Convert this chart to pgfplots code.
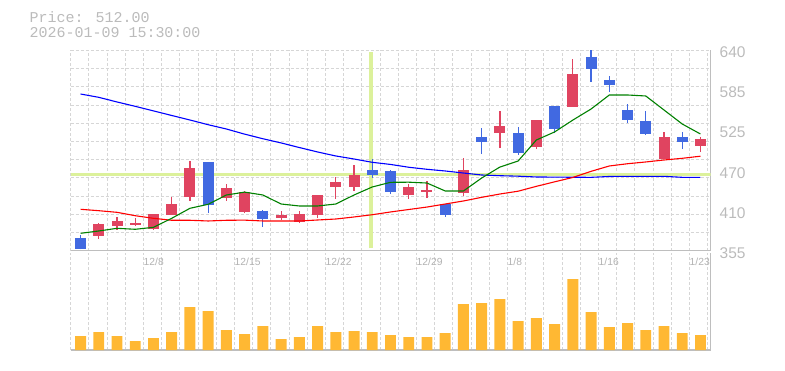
\documentclass[border=0pt]{standalone}
\usepackage{pgfplots}
\pgfplotsset{compat=1.18}
\usepackage{fontspec}
\setmainfont{Liberation Sans}
\newfontfamily\monofont{Liberation Mono}
\definecolor{cred}{RGB}{224,68,96}
\definecolor{cblue}{RGB}{65,105,225}
\definecolor{cvol}{RGB}{255,184,51}
\definecolor{cgrid}{RGB}{214,214,214}
\definecolor{caxis}{RGB}{190,190,190}
\definecolor{ctext}{RGB}{187,187,187}
\definecolor{cdate}{RGB}{178,178,178}
\definecolor{ccross}{RGB}{220,241,155}
\definecolor{cma5}{RGB}{0,128,0}
\definecolor{cma25}{RGB}{255,0,0}
\definecolor{cma75}{RGB}{0,0,255}
\pgfplotsset{
 mycommon/.style={
  scale only axis, width=639.8pt, xmin=-0.54, xmax=34.55,
  xtick={-0.54,0.4582,...,34.5}, xticklabels={},
  xmajorgrids,
  major grid style={cgrid, dash pattern=on 3pt off 2pt, line width=0.9pt},
  major tick length=0pt,
  axis x line*=bottom, axis y line*=right,
  axis line style={caxis, line width=1.3pt, -},
  x axis line style={-}, y axis line style={-},
  clip=true,
 }
}
\begin{document}
\begin{tikzpicture}
\path[use as bounding box] (0,0) rectangle (785pt,370pt);
\node[anchor=base west, font=\monofont\fontsize{15}{15}\selectfont, text=ctext, inner sep=0pt] at (29.3pt,347pt) {Price: 512.00};
\node[anchor=base west, font=\monofont\fontsize{15}{15}\selectfont, text=ctext, inner sep=0pt] at (29.3pt,332.3pt) {2026-01-09 15:30:00};

% volume panel
\begin{axis}[mycommon, at={(70.7pt,20pt)}, anchor=south west, height=97pt,
  ymin=0, ymax=291, ytick=\empty]
\addplot[ybar, bar width=0.6, fill=cvol, draw=none] coordinates {
(0,42) (1,54) (2,42) (3,27) (4,36) (5,54) (6,129) (7,117) (8,60) (9,48)
(10,72) (11,33) (12,39) (13,72) (14,54) (15,57) (16,54) (17,45) (18,39) (19,39)
(20,51) (21,138) (22,141) (23,153) (24,87) (25,96) (26,78) (27,213) (28,114) (29,69)
(30,81) (31,60) (32,72) (33,51) (34,45)};
\end{axis}

% price panel
\begin{axis}[mycommon, at={(70.7pt,119.3pt)}, anchor=south west, height=200.7pt,
  ymin=355, ymax=640,
  ytick={355,380.85,...,640}, yticklabels={}, ymajorgrids,
  yticklabel pos=right,
  extra y ticks={355,412,469,526,583,640},
  extra y tick labels={355,410,470,525,585,640},
  extra y tick style={grid=none, yticklabel style={anchor=west, inner sep=0pt, xshift=9pt, yshift=-2.3pt, text=ctext, font=\fontsize{15.5}{15.5}\selectfont}},
  extra x ticks={3.453,8.444,13.435,18.426,23.417,28.408,33.399},
  extra x tick labels={12/8,12/15,12/22,12/29,1/8,1/16,1/23},
  extra x tick style={grid=none, xticklabel style={anchor=west, inner sep=0pt, yshift=-11.3pt, text=cdate, font=\fontsize{10.3}{10.3}\selectfont}},
  unbounded coords=jump]
% crosshair
\addplot[ccross, line width=3.2pt, mark=none] coordinates {(15.93,358.4) (15.93,637.6)};
\addplot[ccross, line width=3.2pt, mark=none] coordinates {(-0.54,463.5) (34.55,463.5)};
% red candles: wicks
\addplot[cred, line width=1.2pt, mark=none] coordinates {
(1,372) (1,395) (1,nan)
(2,384.4) (2,402.4) (2,nan)
(3,390) (3,401) (3,nan)
(4,384.4) (4,407.1) (4,nan)
(5,405.5) (5,431.3) (5,nan)
(6,425.6) (6,482.4) (6,nan)
(8,425.6) (8,449.7) (8,nan)
(9,408.5) (9,439.8) (9,nan)
(11,398.6) (11,411.4) (11,nan)
(12,394.3) (12,411.4) (12,nan)
(13,401.4) (13,434.1) (13,nan)
(14,428.4) (14,459.7) (14,nan)
(15,439.8) (15,476.7) (15,nan)
(18,428.4) (18,449.7) (18,nan)
(19,429.8) (19,454) (19,nan)
(21,432.7) (21,486.6) (21,nan)
(23,500.8) (23,553.4) (23,nan)
(25,499.4) (25,540.6) (25,nan)
(27,559.1) (27,627.2) (27,nan)
(32,485.2) (32,523.6) (32,nan)
(34,495.2) (34,516.5)};
% red candles: bodies (open -> close)
\addplot[cred, line width=11pt, line cap=butt, mark=none] coordinates {
(1,376) (1,393) (1,nan)
(2,390) (2,397.2) (2,nan)
(3,391.5) (3,394.3) (3,nan)
(4,386) (4,407.1) (4,nan)
(5,405.7) (5,421.3) (5,nan)
(6,431.7) (6,472.4) (6,nan)
(8,430) (8,444) (8,nan)
(9,410) (9,438.4) (9,nan)
(11,401.4) (11,405.7) (11,nan)
(12,395.8) (12,407.1) (12,nan)
(13,405.7) (13,434.1) (13,nan)
(14,445.5) (14,452.6) (14,nan)
(15,445.5) (15,462.5) (15,nan)
(18,434.1) (18,445.5) (18,nan)
(19,438.8) (19,441.2) (19,nan)
(21,437) (21,469.6) (21,nan)
(23,522.1) (23,532.1) (23,nan)
(25,502.3) (25,540.6) (25,nan)
(27,559.1) (27,605.9) (27,nan)
(32,485.2) (32,516.5) (32,nan)
(34,503.7) (34,513.6)};
% blue candles: wicks
\addplot[cblue, line width=1.2pt, mark=none] coordinates {
(0,357) (0,377.3) (0,nan)
(7,408.5) (7,481) (7,nan)
(10,389.1) (10,412.8) (10,nan)
(16,458.2) (16,485.2) (16,nan)
(17,435.5) (17,469.6) (17,nan)
(20,402.9) (20,421.5) (20,nan)
(22,492.3) (22,529.2) (22,nan)
(24,490.9) (24,530.7) (24,nan)
(26,522.1) (26,560.5) (26,nan)
(28,594.6) (28,640) (28,nan)
(29,580.4) (29,603.1) (29,nan)
(30,536.3) (30,563.3) (30,nan)
(31,519.3) (31,553.4) (31,nan)
(33,499.4) (33,523.6)};
% blue candles: bodies (open -> close)
\addplot[cblue, line width=11pt, line cap=butt, mark=none] coordinates {
(0,373) (0,357.4) (0,nan)
(7,481) (7,420) (7,nan)
(10,411.4) (10,399.6) (10,nan)
(16,469.6) (16,462.5) (16,nan)
(17,468.2) (17,438.4) (17,nan)
(20,421.3) (20,405.7) (20,nan)
(22,516.5) (22,509.4) (22,nan)
(24,522.1) (24,493.7) (24,nan)
(26,560.5) (26,527.8) (26,nan)
(28,630.1) (28,613) (28,nan)
(29,597.4) (29,590.3) (29,nan)
(30,554.8) (30,540.6) (30,nan)
(31,539.2) (31,520.7) (31,nan)
(33,516.5) (33,509.4)};
% moving averages
\addplot[cma75, line width=1.1pt, mark=none] coordinates {
(0,577.5) (1,572.8) (2,566.2) (3,560) (4,553.5) (5,547) (6,540.6) (7,533.9) (8,527.8) (9,520.5)
(10,514) (11,508) (12,501.5) (13,495.2) (14,489.5) (15,485.2) (16,480.5) (17,477.5) (18,473.5) (19,470.6)
(20,468.2) (21,465.3) (22,462.5) (23,461.5) (24,460.8) (25,459.7) (26,459.5) (27,459.3) (28,459.2) (29,460.4)
(30,460.6) (31,460.6) (32,460.6) (33,459.2) (34,459.2)};
\addplot[cma25, line width=1.1pt, mark=none] coordinates {
(0,413.8) (1,411.8) (2,409.5) (3,404.7) (4,401) (5,398.2) (6,398.2) (7,397.2) (8,398.2) (9,398.4)
(10,397.2) (11,397.2) (12,397.2) (13,398.6) (14,400) (15,402.9) (16,406.1) (17,410) (18,413.5) (19,417)
(20,421.3) (21,425.6) (22,430.8) (23,435.5) (24,439.5) (25,446.4) (26,452.8) (27,459) (28,467.7) (29,475.3)
(30,478.5) (31,481) (32,483.8) (33,486.2) (34,489.2)};
\addplot[cma5, line width=1.1pt, mark=none] coordinates {
(0,379.7) (1,383) (2,386.8) (3,385.4) (4,388.2) (5,401) (6,415.2) (7,420.9) (8,434.1) (9,438.2)
(10,434.1) (11,421.3) (12,418.5) (13,418.5) (14,421.3) (15,434.1) (16,445.5) (17,452.1) (18,452.3) (19,451.1)
(20,439.8) (21,439.8) (22,458.2) (23,473.8) (24,482.4) (25,512.2) (26,523.6) (27,540.5) (28,556.2) (29,576.1)
(30,576.1) (31,574.7) (32,554.8) (33,534.9) (34,520.7)};
\end{axis}
\end{tikzpicture}
\end{document}
